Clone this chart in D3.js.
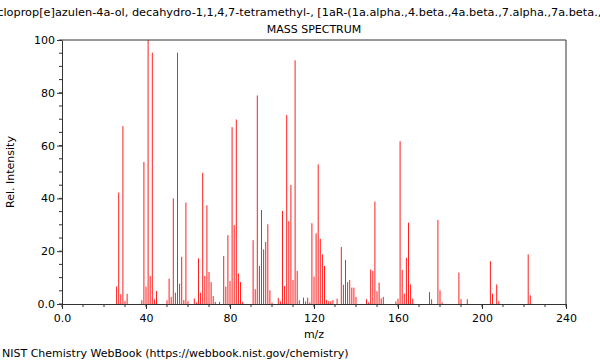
<!DOCTYPE html>
<html><head><meta charset="utf-8">
<script src="https://cdn.jsdelivr.net/npm/d3@7"></script>
<style>body{margin:0;background:#fff}svg{display:block}text{font-family:"DejaVu Sans",sans-serif;fill:#000}</style>
</head><body><svg id="c" width="600" height="360"></svg>
<script>
const titleText = "1H-Cycloprop[e]azulen-4a-ol, decahydro-1,1,4,7-tetramethyl-, [1aR-(1a.alpha.,4.beta.,4a.beta.,7.alpha.,7a.beta.,7b.alpha.)]-";
const subtitle = "MASS SPECTRUM";
const xLabel = "m/z";
const yLabel = "Rel. Intensity";
const footer = "NIST Chemistry WebBook (https://webbook.nist.gov/chemistry)";
const xTicks = [0, 40, 80, 120, 160, 200, 240];
const xTickLabels = ["0.0", "40", "80", "120", "160", "200", "240"];
const yTicks = [0, 20, 40, 60, 80, 100];
const yTickLabels = ["0.0", "20", "40", "60", "80", "100"];
const mz = [26,27,28,29,30,31,38,39,40,41,42,43,44,45,50,51,52,53,54,55,56,57,58,59,60,63,64,65,66,67,68,69,70,71,72,73,75,77,78,79,80,81,82,83,84,85,86,91,92,93,94,95,96,97,98,99,100,103,104,105,106,107,108,109,110,111,112,113,115,116,117,118,119,120,121,122,123,124,125,126,127,128,129,131,133,134,135,136,137,138,139,140,145,146,147,148,149,150,151,152,153,159,160,161,162,163,164,165,166,167,175,176,179,180,181,189,190,193,204,205,207,208,222,223];
const intensity = [6.6,42.2,3.7,67.4,1.1,3.9,1.4,53.8,6.6,100,10.6,95.2,1.8,4.9,1.4,9.6,2.7,40,4.3,95.2,7.7,17.9,1.5,38.4,1.1,2.1,0.6,17.3,4.3,49.7,10.6,37.4,12.1,8.3,3.0,0.8,0.8,18.2,6.6,26.1,8.7,67.0,29.9,69.9,11.6,8.3,0.8,24.2,5.6,79.0,14.4,35.6,20.7,23.5,30.2,5.2,0.5,2.3,1.0,35.2,6.8,71.6,31.4,45.1,9.1,92.3,12.5,1.4,2.4,1.0,2.4,0.6,30.6,10.4,26.8,52.9,24.7,18.8,14.4,1.5,1.1,1.1,1.5,2.0,21.6,7.3,16.7,8.3,9.1,6.2,6.2,2.7,1.8,0.6,13.1,12.5,38.8,4.9,8.1,2.1,2.7,1.0,2.0,61.7,12.9,3.9,17.5,30.8,7.4,2.0,4.5,1.8,31.8,5.2,0.6,11.9,1.8,1.8,16.2,3.9,7.4,1.1,18.8,3.3];

const svg = d3.select("#c");
const L = 62, R = 566, T = 40, B = 304;
const x = d3.scaleLinear().domain([0, 240]).range([L, R]);
const y = d3.scaleLinear().domain([0, 100]).range([B, T]);

// title
svg.append("text").attr("x", 315).attr("y", 16).attr("text-anchor", "middle").attr("font-size", 11.3).text(titleText);
svg.append("text").attr("x", 314).attr("y", 33).attr("text-anchor", "middle").attr("font-size", 11).text(subtitle);

// bars
svg.append("g").selectAll("rect").data(mz).join("rect")
  .attr("x", d => x(d) - 0.5).attr("width", 1)
  .attr("y", (d, i) => y(intensity[i])).attr("height", (d, i) => y(0) - y(intensity[i]))
  .attr("fill", "#ff2020");

// frame
const axCol = "#333";
svg.append("path").attr("d", `M${L},${T}H${R}V${B}`).attr("fill", "none").attr("stroke", axCol).attr("stroke-width", 1);

// x axis
const gx = svg.append("g").attr("transform", `translate(0,${B})`);
gx.call(d3.axisBottom(x).tickValues(xTicks).tickFormat((d, i) => xTickLabels[i]).tickSize(5).tickSizeOuter(0));
gx.append("g").selectAll("line").data(d3.range(0, 241, 10)).join("line")
  .attr("x1", d => x(d)).attr("x2", d => x(d)).attr("y1", 0).attr("y2", 3).attr("stroke", axCol);
// y axis
const gy = svg.append("g").attr("transform", `translate(${L},0)`);
gy.call(d3.axisLeft(y).tickValues(yTicks).tickFormat((d, i) => yTickLabels[i]).tickSize(5).tickSizeOuter(0));
gy.append("g").selectAll("line").data(d3.range(0, 101, 5)).join("line")
  .attr("y1", d => y(d)).attr("y2", d => y(d)).attr("x1", -3).attr("x2", 0).attr("stroke", axCol);
[gx, gy].forEach(g => {
  g.selectAll(".domain").attr("stroke", axCol);
  g.selectAll(".tick line").attr("stroke", axCol);
  g.selectAll(".tick text").attr("font-size", 11).attr("font-family", "DejaVu Sans").attr("fill", "#000");
});
gx.selectAll(".tick text").attr("dy", "0.9em");
gy.selectAll(".tick text").attr("x", -7);

svg.append("text").attr("x", 314).attr("y", 338).attr("text-anchor", "middle").attr("font-size", 11).text(xLabel);
svg.append("text").attr("transform", `translate(14,${(T + B) / 2}) rotate(-90)`).attr("text-anchor", "middle").attr("font-size", 11).text(yLabel);
svg.append("text").attr("x", 2).attr("y", 357).attr("font-size", 11).text(footer);
</script></body></html>
